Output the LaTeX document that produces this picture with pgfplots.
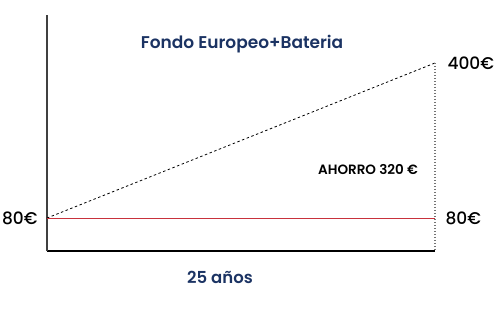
\documentclass[border=0pt]{standalone}
\usepackage{pgfplots}
\pgfplotsset{compat=1.18}
\usepackage{fontspec}
\setmainfont{Poppins}[UprightFont=* Medium, BoldFont=* SemiBold]
\definecolor{navy}{HTML}{1B3363}
\definecolor{redl}{HTML}{C8323C}
\begin{document}
\begin{tikzpicture}
\begin{axis}[
  name=ax,
  scale only axis, width=388bp, height=236bp,
  xmin=0, xmax=25, ymin=12, ymax=499,
  axis x line=bottom, axis y line=left,
  x axis line style={-, black, line width=1.3bp},
  y axis line style={-, black!75, line width=1.8bp},
  ticks=none,
  clip=false,
]
\addplot[black, line width=0.8bp, dash pattern=on 2.5bp off 2.5bp] coordinates {(0,80) (25,400)};
\addplot[redl, line width=1bp] coordinates {(0,80) (25,80)};
\addplot[black!55, line width=1.4bp, dash pattern=on 1.5bp off 1.5bp] coordinates {(25,400) (25,12)};
\end{axis}
\begin{scope}[shift={(ax.south west)}, x=1bp, y=1bp]
\useasboundingbox (-47,-72) rectangle (449,251);
\node[text=navy, font=\bfseries\fontsize{17bp}{20bp}\selectfont] at (195,207) {Fondo Europeo+Bateria};
\node[font=\fontsize{17bp}{20bp}\selectfont, anchor=east] at (-6,33) {80€};
\node[font=\fontsize{17bp}{20bp}\selectfont, anchor=west] at (397,188) {400€};
\node[font=\fontsize{17bp}{20bp}\selectfont, anchor=west] at (395,33) {80€};
\node[font=\bfseries\fontsize{13.5bp}{16bp}\selectfont] at (321,81) {AHORRO 320 €};
\node[text=navy, font=\bfseries\fontsize{16.5bp}{19bp}\selectfont] at (173,-26) {25 años};
\end{scope}
\end{tikzpicture}
\end{document}
